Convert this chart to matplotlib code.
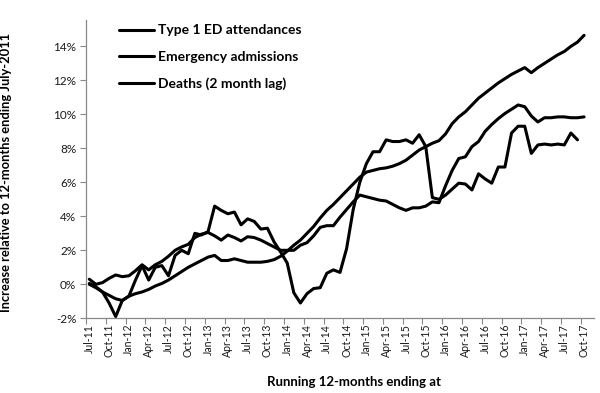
import numpy as np
import matplotlib
matplotlib.use("Agg")
import matplotlib.pyplot as plt

plt.rcParams['font.family'] = ['Lato', 'DejaVu Sans']

# tick labels every 3 months (categories run monthly Jul-11 .. Nov-17)
tick_labels = ['Jul-11', 'Oct-11', 'Jan-12', 'Apr-12', 'Jul-12', 'Oct-12',
               'Jan-13', 'Apr-13', 'Jul-13', 'Oct-13', 'Jan-14', 'Apr-14',
               'Jul-14', 'Oct-14', 'Jan-15', 'Apr-15', 'Jul-15', 'Oct-15',
               'Jan-16', 'Apr-16', 'Jul-16', 'Oct-16', 'Jan-17', 'Apr-17',
               'Jul-17', 'Oct-17']
n_categories = 77

# % increase relative to 12 months ending July 2011
ed_attendances = [0.3, 0.0, 0.1, 0.35, 0.55, 0.45, 0.5, 0.8, 1.15, 0.85,
                  1.15, 1.35, 1.65, 2.0, 2.2, 2.35, 2.75, 2.95, 3.05, 2.85,
                  2.6, 2.9, 2.75, 2.55, 2.8, 2.75, 2.6, 2.4, 2.2, 2.0,
                  2.0, 2.0, 2.3, 2.45, 2.85, 3.35, 3.45, 3.45, 3.95, 4.4,
                  4.85, 5.25, 5.15, 5.05, 4.95, 4.9, 4.7, 4.5, 4.35, 4.5,
                  4.5, 4.6, 4.85, 4.8, 5.8, 6.7, 7.4, 7.5, 8.1, 8.4,
                  9.0, 9.4, 9.75, 10.05, 10.3, 10.55, 10.45, 9.9, 9.55, 9.8,
                  9.8, 9.85, 9.85, 9.8, 9.8, 9.85]

emergency_admissions = [0.0, -0.2, -0.45, -0.65, -0.85, -0.95, -0.7, -0.55, -0.45, -0.3,
                        -0.1, 0.05, 0.25, 0.5, 0.75, 1.0, 1.2, 1.4, 1.6, 1.7,
                        1.4, 1.4, 1.5, 1.4, 1.3, 1.3, 1.3, 1.35, 1.45, 1.65,
                        1.95, 2.3, 2.6, 3.0, 3.4, 3.9, 4.35, 4.7, 5.1, 5.5,
                        5.9, 6.3, 6.6, 6.7, 6.8, 6.85, 6.95, 7.1, 7.3, 7.6,
                        7.9, 8.1, 8.3, 8.45, 8.85, 9.45, 9.85, 10.15, 10.55, 10.95,
                        11.25, 11.55, 11.85, 12.1, 12.35, 12.55, 12.75, 12.45, 12.75, 13.0,
                        13.25, 13.5, 13.7, 14.0, 14.25, 14.65]

deaths = [0.05, -0.15, -0.45, -1.1, -1.9, -0.95, -0.7, 0.25, 1.1, 0.25,
          1.0, 1.1, 0.5, 1.7, 2.0, 1.8, 3.0, 2.9, 3.1, 4.6,
          4.35, 4.15, 4.25, 3.5, 3.85, 3.7, 3.25, 3.3, 2.5, 1.9,
          1.25, -0.5, -1.1, -0.55, -0.25, -0.2, 0.65, 0.85, 0.7, 2.1,
          4.4, 6.0, 7.1, 7.8, 7.8, 8.5, 8.4, 8.4, 8.5, 8.3,
          8.8, 8.1, 5.1, 5.0, 5.25, 5.6, 5.95, 5.9, 5.55, 6.5,
          6.2, 5.95, 6.9, 6.9, 8.9, 9.3, 9.3, 7.7, 8.2, 8.25,
          8.2, 8.25, 8.2, 8.9, 8.5]

series = [("Type 1 ED attendances", ed_attendances),
          ("Emergency admissions", emergency_admissions),
          ("Deaths (2 month lag)", deaths)]

fig = plt.figure(figsize=(6.0, 3.93), dpi=100)
ax = fig.add_axes([86 / 600, 1 - 318.3 / 393, 508 / 600, 298.3 / 393])

for name, vals in series:
    ax.plot(np.arange(len(vals)), vals, color='black', lw=2.2,
            solid_joinstyle='round', solid_capstyle='round', label=name)

ax.set_xlim(-0.5, n_categories - 0.5)
ax.set_ylim(-2, 15.55)

# ticks sit on category boundaries, labels on category centres
label_pos = np.arange(0, 3 * len(tick_labels), 3)
ax.set_xticks(label_pos - 0.5)
ax.set_xticklabels([])
ax.set_xticks(label_pos, labels=tick_labels, minor=True)
ax.tick_params(axis='x', which='minor', length=0, pad=4, rotation=90,
               labelsize=7.6, labelcolor='#1a1a1a')
ax.tick_params(axis='x', which='major', length=4, width=0.8, color='#888888')

yticks = np.arange(-2, 15, 2)
ax.set_yticks(yticks, labels=[f"{v}%" for v in yticks])
ax.tick_params(axis='y', length=4, width=0.8, color='#888888', pad=3,
               labelsize=8.5, labelcolor='#1a1a1a')

for side in ('top', 'right'):
    ax.spines[side].set_visible(False)
for side in ('left', 'bottom'):
    ax.spines[side].set_color('#888888')
    ax.spines[side].set_linewidth(0.9)

ax.set_ylabel("Increase relative to 12-months ending July-2011",
              fontsize=9.3, fontweight='bold')
ax.yaxis.set_label_coords(-0.146, 0.49)
ax.set_xlabel("Running 12-months ending at", fontsize=9.5, fontweight='bold')
ax.xaxis.set_label_coords(0.528, -0.2135)
ax.xaxis.label.set_va('center')

leg = ax.legend(loc='upper left', bbox_to_anchor=(0.055, 1.004), frameon=False,
                handlelength=2.5, handletextpad=0.25, labelspacing=1.03,
                borderaxespad=0, prop={'size': 10, 'weight': 'bold'})

fig.savefig("out.png", dpi=100)
